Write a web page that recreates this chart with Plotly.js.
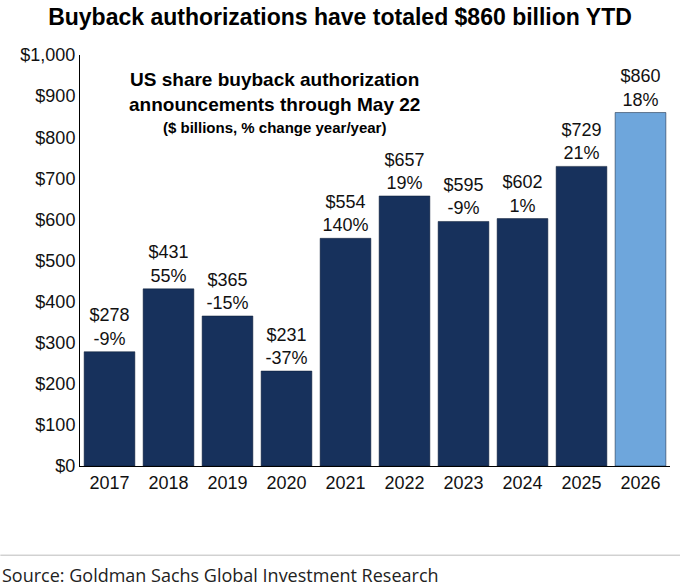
<!DOCTYPE html>
<html><head><script src="https://cdn.plot.ly/plotly-3.0.1.min.js"></script>
<style>body{margin:0}</style></head><body>
<div id="c" style="width:680px;height:588px"></div>
<script>
const years = ['2017','2018','2019','2020','2021','2022','2023','2024','2025','2026'];
const values = [278,431,365,231,554,657,595,602,729,860];
const changes = ['-9%','55%','-15%','-37%','140%','19%','-9%','1%','21%','18%'];
const colors = years.map((y,i)=> i===years.length-1 ? '#6ea6dc' : '#17315c');
const labels = values.map((v,i)=>'$'+v+'<br>'+changes[i]);
Plotly.newPlot('c',[{
  type:'bar', x:years, y:values, text:labels, textposition:'outside',
  textfont:{family:'Arial, Liberation Sans', size:18, color:'#111'},
  marker:{color:colors, line:{color:'#0b1a33', width:0.5}}, cliponaxis:false, hoverinfo:'none'
}],{
  width:680, height:588, margin:{l:80,r:10,t:55,b:122},
  paper_bgcolor:'#fff', plot_bgcolor:'#fff', bargap:0.14, showlegend:false,
  title:{text:'<b>Buyback authorizations have totaled $860 billion YTD</b>', x:0.5, xanchor:'center', y:0.985, yanchor:'top',
    font:{family:'Arial, Liberation Sans', size:23, color:'#000'}},
  xaxis:{type:'category', dtick:1, tickfont:{family:'Arial, Liberation Sans', size:18, color:'#111'}, showline:true, linecolor:'#000', linewidth:1, ticks:''},
  yaxis:{range:[0,1000], dtick:100, tickprefix:'$', tickformat:',d', showgrid:false, showline:true, linecolor:'#000', linewidth:1,
    ticks:'', zeroline:false, tickfont:{family:'Arial, Liberation Sans', size:18, color:'#111'}},
  annotations:[
    {xref:'paper', yref:'paper', x:0.33, y:0.97, xanchor:'center', yanchor:'top', showarrow:false,
     text:'<b>US share buyback authorization<br>announcements through May 22</b>', font:{family:'Arial, Liberation Sans', size:19, color:'#000'}},
    {xref:'paper', yref:'paper', x:0.33, y:0.85, xanchor:'center', yanchor:'top', showarrow:false,
     text:'<b>($ billions, % change year/year)</b>', font:{family:'Arial, Liberation Sans', size:15, color:'#000'}},
    {xref:'paper', yref:'paper', x:-0.135, y:-0.265, xanchor:'left', yanchor:'middle', showarrow:false,
     text:'Source: Goldman Sachs Global Investment Research', font:{family:'Open Sans, Noto Sans', size:18, color:'#222'}}
  ],
  shapes:[{type:'line', xref:'paper', yref:'paper', x0:-0.135, x1:1.02, y0:-0.217, y1:-0.217, line:{color:'#bbb', width:1}}]
},{displayModeBar:false});
</script></body></html>
